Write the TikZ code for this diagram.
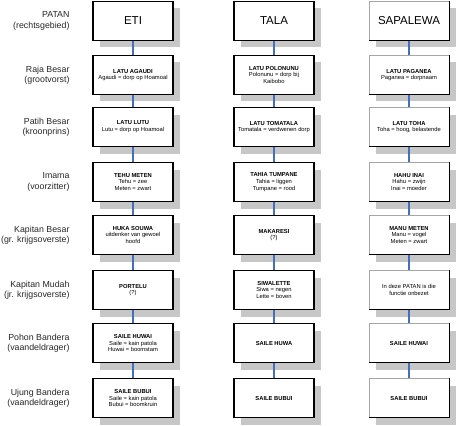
\documentclass[tikz,border=0pt]{standalone}
\usepackage{fontspec}
\setmainfont{Liberation Sans}
\usetikzlibrary{positioning,shadows}
\tikzset{every picture/.style={>=latex}}
\tikzset{rank/.style={align=right,anchor=east,text=black!85,font=\fontsize{8.8}{10.5}\selectfont}}
\tikzset{post/.style={draw,line width=1.3pt,fill=white,minimum width=80,minimum height=39,
    inner sep=1pt,align=center,font=\fontsize{5.8}{6.8}\selectfont,
    drop shadow={shadow xshift=7pt,shadow yshift=-7pt,fill=black!22,opacity=1}}}
\tikzset{lightpost/.style={post,draw=black!35,line width=0.6pt}}
\tikzset{head/.style={font=\fontsize{11.5}{12}\selectfont}}
\definecolor{linkblue}{RGB}{70,110,190}
\tikzset{link/.style={draw=linkblue,line width=1.1pt}}

\begin{document}
\begin{tikzpicture}[x=1pt,y=-1pt]
  \useasboundingbox (0,0) rectangle (457,425);
  % ranks on the left
  \node[rank] (r1) at (73,21) {PATAN\\(rechtsgebied)};
  \node[rank] (r2) at (73,75) {Raja Besar\\(grootvorst)};
  \node[rank] (r3) at (73,127) {Patih Besar\\(kroonprins)};
  \node[rank] (r4) at (73,182) {Imama\\(voorzitter)};
  \node[rank] (r5) at (73,235) {Kapitan Besar\\(gr. krijgsoverste)};
  \node[rank] (r6) at (73,290) {Kapitan Mudah\\(jr. krijgsoverste)};
  \node[rank] (r7) at (73,343) {Pohon Bandera\\(vaandeldrager)};
  \node[rank] (r8) at (73,398) {Ujung Bandera\\(vaandeldrager)};
  % ETI
  \node[post,head] (e1) at (133,21) {ETI};
  \node[post] (e2) at (133,75) {\textbf{LATU AGAUDI}\\Agaudi = dorp op Hoamoal};
  \node[post] (e3) at (133,127) {\textbf{LATU LUTU}\\Lutu = dorp op Hoamoal};
  \node[post] (e4) at (133,182) {\textbf{TEHU METEN}\\Tehu = zee\\Meten = zwart};
  \node[post] (e5) at (133,235) {\textbf{HUKA SOUWA}\\uitdenker van gewoel\\hoofd};
  \node[post] (e6) at (133,290) {\textbf{PORTELU}\\(?)};
  \node[post] (e7) at (133,343) {\textbf{SAILE HUWAI}\\Saile = kain patola\\Huwai = boomstam};
  \node[post] (e8) at (133,398) {\textbf{SAILE BUBUI}\\Saile = kain patola\\Bubui = boomkruin};
  % TALA
  \node[post,head] (t1) at (274,21) {TALA};
  \node[post] (t2) at (274,75) {\textbf{LATU POLONUNU}\\Polonunu = dorp bij\\Kaibobo};
  \node[post] (t3) at (274,127) {\textbf{LATU TOMATALA}\\Tomatala = verdwenen dorp};
  \node[post] (t4) at (274,182) {\textbf{TAHIA TUMPANE}\\Tahia = liggen\\Tumpane = rood};
  \node[post] (t5) at (274,235) {\textbf{MAKARESI}\\(?)};
  \node[post] (t6) at (274,290) {\textbf{SIWALETTE}\\Siwa = negen\\Lette = boven};
  \node[post] (t7) at (274,343) {\textbf{SAILE HUWA}};
  \node[post] (t8) at (274,398) {\textbf{SAILE BUBUI}};
  % SAPALEWA
  \node[lightpost,head] (s1) at (409,21) {SAPALEWA};
  \node[lightpost] (s2) at (409,75) {\textbf{LATU PAGANEA}\\Paganea = dorpnaam};
  \node[lightpost] (s3) at (409,127) {\textbf{LATU TOHA}\\Toha = hoog, belastende};
  \node[lightpost] (s4) at (409,182) {\textbf{HAHU INAI}\\Hahu = zwijn\\Inai = moeder};
  \node[lightpost] (s5) at (409,235) {\textbf{MANU METEN}\\Manu = vogel\\Meten = zwart};
  \node[lightpost] (s6) at (409,290) {In deze PATAN is die\\functie onbezet};
  \node[lightpost] (s7) at (409,343) {\textbf{SAILE HUWAI}};
  \node[lightpost] (s8) at (409,398) {\textbf{SAILE BUBUI}};
  \foreach \i in {1,...,8}
    \draw[line width=1.2pt] (s\i.north east) -- (s\i.south east) -- (s\i.south west);
  % lines down each column
  \foreach \i/\j in {1/2,2/3,3/4,4/5,5/6,6/7,7/8} {
    \draw[link] (e\i.south) -- (e\j.north);
    \draw[link] (t\i.south) -- (t\j.north);
    \draw[link] (s\i.south) -- (s\j.north);
  }
\end{tikzpicture}
\end{document}
